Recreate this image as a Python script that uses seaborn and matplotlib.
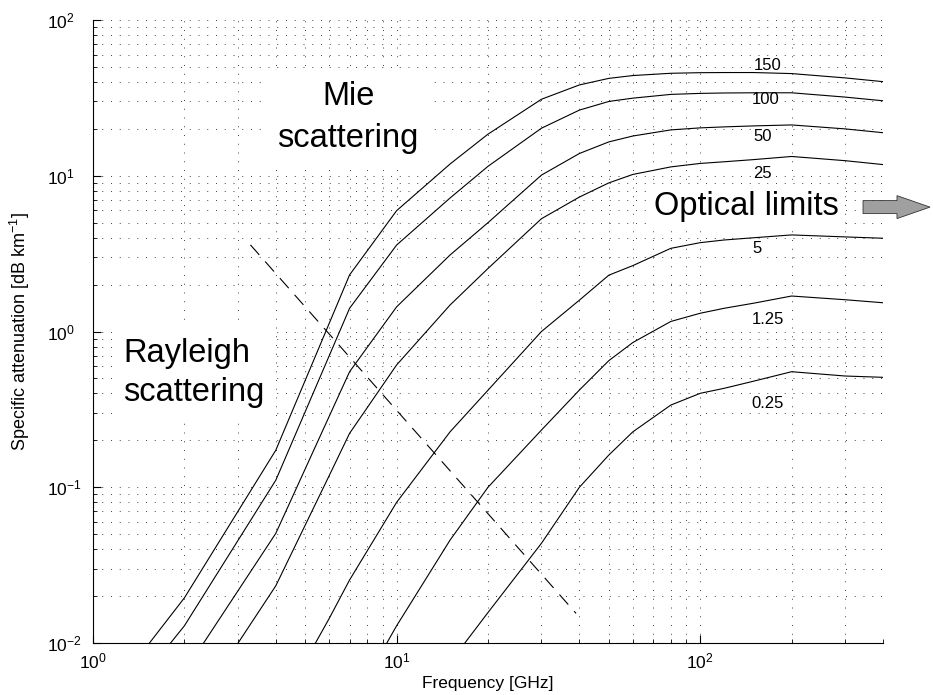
import matplotlib
matplotlib.use("Agg")
import matplotlib.pyplot as plt
import seaborn as sns
import pandas as pd
from matplotlib.patches import FancyArrow
from matplotlib.ticker import NullFormatter

# frequency grid [GHz]
freq = [1, 2, 4, 6, 7, 10, 15, 20, 30, 40, 50, 60, 80, 100, 120, 150, 200, 300, 400]

# specific attenuation [dB/km] per rain rate [mm/h]
att_150 = [0.0034, 0.0195, 0.173, 1.13, 2.31, 5.97, 11.9, 18.5, 31.0, 38.3, 42.2, 44.0, 45.5, 45.9, 46.0, 46.0, 45.3, 42.5, 40.2]
att_100 = [0.0024, 0.0129, 0.111, 0.70, 1.41, 3.59, 7.2, 11.5, 20.2, 26.4, 30.0, 31.5, 33.3, 33.8, 34.0, 34.1, 34.1, 32.0, 30.3]
att_50 = [0.001, 0.0065, 0.0506, 0.286, 0.552, 1.44, 3.1, 5.0, 10.1, 13.9, 16.5, 18.0, 19.7, 20.3, 20.6, 20.9, 21.2, 20.0, 18.9]
att_25 = [0.0004, 0.0030, 0.0233, 0.119, 0.222, 0.61, 1.48, 2.54, 5.3, 7.3, 9.0, 10.2, 11.4, 12.0, 12.3, 12.7, 13.3, 12.5, 11.8]
att_5 = [0.00002, 0.0002, 0.0035, 0.0144, 0.0254, 0.08, 0.227, 0.42, 1.0, 1.59, 2.3, 2.65, 3.42, 3.72, 3.87, 4.0, 4.17, 4.05, 3.97]
att_1_25 = [0.000002, 0.00002, 0.0003, 0.0018, 0.0038, 0.0129, 0.0458, 0.1, 0.233, 0.421, 0.65, 0.85, 1.16, 1.31, 1.41, 1.52, 1.69, 1.60, 1.53]
att_0_25 = [0.0000005, 0.000005, 0.00005, 0.0003, 0.0006, 0.0026, 0.0075, 0.0157, 0.0437, 0.1, 0.161, 0.227, 0.337, 0.401, 0.432, 0.48, 0.552, 0.518, 0.508]

rates = ["150", "100", "50", "25", "5", "1.25", "0.25"]
curves = [att_150, att_100, att_50, att_25, att_5, att_1_25, att_0_25]

# Rayleigh / Mie boundary (dashed)
border_f = [3.3, 39.0]
border_a = [3.6, 0.0155]

# curve label positions
label_f = [167, 164, 160, 160, 154, 167, 167]
label_a = [50.7, 30.7, 18.0, 10.4, 3.39, 1.19, 0.347]

df = pd.concat([pd.DataFrame({"freq": freq, "att": a, "rate": r}) for r, a in zip(rates, curves)])

sns.set_style("ticks")
plt.rcParams["font.family"] = ["Liberation Sans", "DejaVu Sans"]
plt.rcParams["mathtext.fontset"] = "custom"
plt.rcParams["mathtext.rm"] = "Liberation Sans"
plt.rcParams["mathtext.it"] = "Liberation Sans:italic"
plt.rcParams["mathtext.default"] = "regular"
for k in ["text.color", "axes.labelcolor", "xtick.color", "ytick.color", "axes.edgecolor"]:
    plt.rcParams[k] = "black"

fig = plt.figure(figsize=(9.33, 6.95), dpi=100)
ax = fig.add_axes([0.0997, 0.0748, 0.8467, 0.8964])
ax.set(xscale="log", yscale="log")

sns.lineplot(data=df, x="freq", y="att", hue="rate", palette={r: "black" for r in rates},
             legend=False, lw=0.8, ax=ax, zorder=3)
ax.plot(border_f, border_a, color="black", lw=0.8, linestyle=(0, (12, 8)), zorder=3)

ax.set_xlim(1, 400)
ax.set_ylim(1e-2, 1e2)

ax.grid(True, which="both", linestyle=(0, (1, 8)), lw=0.7, color="0.25")
ax.set_axisbelow(True)
sns.despine(ax=ax)
for s in ["left", "bottom"]:
    ax.spines[s].set_linewidth(0.8)

ax.set_xticks([1, 10, 100])
ax.set_xticklabels([r"$10^{0}$", r"$10^{1}$", r"$10^{2}$"], fontsize=12.5)
ax.set_yticks([1e-2, 1e-1, 1, 10, 100])
ax.set_yticklabels([r"$10^{-2}$", r"$10^{-1}$", r"$10^{0}$", r"$10^{1}$", r"$10^{2}$"], fontsize=12.5, ha="left")
ax.xaxis.set_minor_formatter(NullFormatter())
ax.yaxis.set_minor_formatter(NullFormatter())
ax.tick_params(which="major", direction="in", length=5.5, width=0.8)
ax.tick_params(which="minor", direction="in", length=3, width=0.6)
ax.tick_params(axis="x", pad=6)
ax.tick_params(axis="y", pad=33)

ax.set_xlabel("Frequency [GHz]", fontsize=12.5)
ax.set_ylabel("Specific attenuation [dB km$^{-1}$]", fontsize=13)
ax.xaxis.set_label_coords(0.5, -0.053)
ax.yaxis.label.set_va("center")
ax.yaxis.set_label_coords(-0.093, 0.5)

for r, f, a in zip(rates, label_f, label_a):
    ax.text(f, a, r, ha="center", va="center", fontsize=12, zorder=2.5,
            bbox=dict(fc="white", ec="none", pad=1))

ax.text(6.92, 23.8, "Mie\nscattering", ha="center", va="center", fontsize=23.5,
        multialignment="center", linespacing=1.45, zorder=4,
        bbox=dict(fc="white", ec="none", pad=8))
ax.text(1.256, 0.54, "Rayleigh\nscattering", ha="left", va="center", fontsize=23.5,
        multialignment="left", linespacing=1.35, zorder=4,
        bbox=dict(fc="white", ec="none", pad=8))
ax.text(141.8, 6.33, "Optical limits", ha="center", va="center", fontsize=23.5,
        zorder=4, bbox=dict(fc="white", ec="none", pad=3.5))

fig.add_artist(FancyArrow(0.925, 0.702, 0.0718, 0, width=0.0187, head_width=0.033,
                          head_length=0.0354, length_includes_head=True,
                          transform=fig.transFigure, fc="#a0a0a0", ec="0.2", lw=0.6))

fig.savefig("out.png", dpi=100)
